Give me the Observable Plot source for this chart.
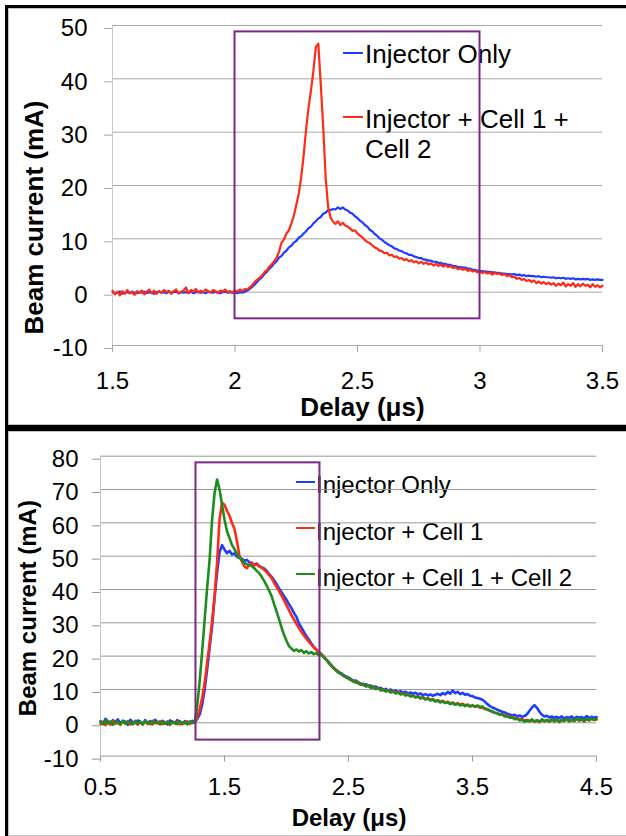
<!DOCTYPE html>
<html>
<head>
<meta charset="utf-8">
<script src="https://cdn.jsdelivr.net/npm/d3@7"></script>
<script src="https://cdn.jsdelivr.net/npm/@observablehq/plot@0.6"></script>
<style>
  html, body { margin: 0; padding: 0; background: #fff; }
  body { width: 626px; height: 836px; position: relative; overflow: hidden; font-family: "Liberation Sans", Arial, sans-serif; }
  .panel { position: absolute; box-sizing: border-box; border: 3px solid #000; box-shadow: inset 0 0 0 1px #c4c4c4; pointer-events: none; z-index: 3; }
  .chart { position: absolute; left: 0; z-index: 2; }
  .chart svg { background: transparent; }
  .leg { position: absolute; z-index: 1; color: #000; white-space: normal; }
  .legline { position: absolute; z-index: 1; height: 2px; }
</style>
</head>
<body>
<div id="top" class="chart" style="top:0px"></div>
<div id="bottom" class="chart" style="top:425px"></div>
<div class="panel" style="left:5px; top:5px; width:700px; height:423px"></div>
<div class="panel" style="left:5px; top:428px; width:700px; height:411px"></div>
<script>
// ---------- shared ----------
const colorInjector = "#1f3dff";
const colorCell1 = "#ff2b17";
const colorCell12 = "#1e8c1e";
const colorBox = "#7a2a84";
const yTitle = "Beam current (mA)";
const xTitle = "Delay (μs)";

// ---------- top chart ----------
const topXTicks = [1.5, 2, 2.5, 3, 3.5];
const topYTicks = [-10, 0, 10, 20, 30, 40, 50];
const topDelayStart = 1.5, topDelayStep = 0.01; // sampling grid, 201 samples
const topSeriesNames = ["Injector Only", "Injector + Cell 1 + Cell 2"];
// Injector Only (blue), rows of 10 samples starting at 1.50, 1.60, ...
const topInjectorOnly = [
  0.0, -0.2, -0.1, 0.1, -0.3, -0.1, 0.0, -0.2, 0.1, -0.1,
  -0.2, 0.0, -0.1, 0.1, -0.2, 0.0, -0.1, -0.3, 0.0, 0.1,
  -0.1, 0.0, -0.2, 0.1, -0.1, 0.0, 0.1, -0.2, 0.0, -0.1,
  0.0, -0.1, 0.1, -0.2, 0.0, 0.1, -0.1, 0.0, -0.2, 0.1,
  0.0, -0.1, 0.1, 0.0, -0.2, 0.0, 0.1, -0.1, 0.0, -0.1,
  -0.1, -0.2, 0.0, -0.1, 0.1, 0.3, 0.6, 1.0, 1.4, 1.9,
  2.4, 2.8, 3.4, 3.8, 4.4, 4.8, 5.4, 5.8, 6.5, 6.8,
  7.4, 7.8, 8.4, 8.7, 9.3, 9.6, 10.2, 10.5, 11.0, 11.4,
  12.0, 12.3, 12.9, 13.3, 13.8, 14.1, 14.7, 14.9, 15.4, 15.4,
  15.6, 15.5, 15.9, 15.6, 15.9, 15.5, 15.3, 14.9, 14.7, 14.2,
  13.9, 13.4, 13.1, 12.6, 12.3, 11.7, 11.4, 10.9, 10.6, 10.1,
  9.8, 9.4, 9.1, 8.8, 8.6, 8.2, 8.1, 7.8, 7.7, 7.4,
  7.3, 7.0, 7.0, 6.7, 6.6, 6.4, 6.4, 6.1, 6.1, 5.9,
  5.9, 5.7, 5.7, 5.5, 5.5, 5.3, 5.3, 5.1, 5.1, 4.9,
  4.9, 4.7, 4.7, 4.6, 4.6, 4.4, 4.4, 4.2, 4.2, 4.0,
  4.0, 3.9, 3.9, 3.8, 3.8, 3.7, 3.7, 3.6, 3.6, 3.5,
  3.5, 3.4, 3.4, 3.3, 3.4, 3.2, 3.3, 3.1, 3.2, 3.0,
  3.1, 3.0, 3.0, 2.9, 3.0, 2.8, 2.9, 2.8, 2.8, 2.7,
  2.8, 2.6, 2.7, 2.6, 2.7, 2.5, 2.6, 2.5, 2.6, 2.4,
  2.5, 2.4, 2.5, 2.4, 2.5, 2.3, 2.4, 2.3, 2.4, 2.3,
  2.3
];
// Injector + Cell 1 + Cell 2 (red)
const topInjectorCell12 = [
  0.3, -0.4, 0.1, -0.6, 0.2, -0.3, 0.4, -0.2, 0.0, -0.5,
  0.2, -0.1, 0.3, -0.4, 0.1, 0.5, -0.2, 0.3, -0.3, 0.2,
  -0.1, 0.4, 0.0, 0.3, -0.3, 0.2, 0.5, -0.2, 0.1, 0.3,
  0.9, -0.2, 0.4, 0.1, 0.6, -0.1, 0.3, 0.0, 0.5, 0.2,
  -0.1, 0.4, 0.2, -0.2, 0.3, 0.1, 0.5, 0.0, 0.2, -0.1,
  0.3, 0.1, 0.5, 0.2, 0.6, 0.5, 0.9, 1.3, 1.9, 2.3,
  2.7, 3.1, 3.7, 4.1, 4.8, 5.2, 5.8, 6.5, 7.6, 9.3,
  9.9, 11.0, 11.6, 12.9, 14.3, 16.3, 18.4, 21.5, 25.5, 30.5,
  34.5, 37.8, 41.5, 46.0, 46.6, 39.0, 31.0, 21.5, 16.0, 14.0,
  13.2, 12.8, 13.3, 12.6, 13.0, 12.5, 12.3, 11.9, 11.5, 11.6,
  11.0, 10.6, 10.3, 9.8, 9.4, 9.2, 8.8, 8.4, 8.2, 7.8,
  7.7, 7.3, 7.4, 6.9, 7.0, 6.6, 6.7, 6.3, 6.4, 6.0,
  6.2, 5.8, 6.0, 5.6, 5.8, 5.4, 5.7, 5.3, 5.6, 5.2,
  5.4, 5.0, 5.3, 4.9, 5.2, 4.8, 5.1, 4.7, 4.9, 4.5,
  4.7, 4.3, 4.5, 4.2, 4.4, 4.0, 4.2, 3.9, 4.0, 3.7,
  3.8, 3.6, 3.8, 3.5, 3.7, 3.3, 3.6, 3.4, 3.5, 3.2,
  3.4, 3.0, 3.2, 2.8, 2.9, 2.5, 2.7, 2.3, 2.5, 2.1,
  2.3, 1.9, 2.2, 1.7, 2.0, 1.6, 1.9, 1.5, 1.8, 1.4,
  1.7, 1.2, 1.6, 1.3, 1.8, 1.1, 1.5, 1.2, 1.7, 1.0,
  1.5, 1.1, 1.6, 1.2, 1.4, 0.9, 1.5, 1.0, 1.3, 0.9,
  1.2
];
const topBox = [{x1: 2, x2: 3, y1: -5, y2: 48.8}];

// ---------- bottom chart ----------
const botXTicks = [0.5, 1.5, 2.5, 3.5, 4.5];
const botYTicks = [-10, 0, 10, 20, 30, 40, 50, 60, 70, 80];
const botDelayStart = 0.5, botDelayStep = 0.02; // sampling grid, 201 samples
const botSeriesNames = ["Injector Only", "Injector + Cell 1", "Injector + Cell 1 + Cell 2"];
// rows of 10 samples starting at 0.50, 0.70, 0.90, ...
const botInjectorOnly = [
  0.5, -0.3, 1.2, 0.4, -0.5, 0.8, 0.1, 1.0, -0.2, 0.6,
  0.3, -0.6, 0.9, 0.2, -0.1, 0.7, 0.4, -0.4, 0.8, 0.0,
  0.5, -0.3, 0.9, 0.2, -0.2, 0.6, 0.1, -0.5, 0.7, 0.3,
  -0.1, 0.8, 0.0, -0.4, 0.5, 0.2, -0.2, 0.6, 0.1, 1.2,
  2.5, 5.5, 10.0, 16.0, 22.5, 29.0, 37.5, 45.0, 51.2, 53.3,
  52.0, 50.9, 51.6, 50.5, 50.8, 49.8, 49.5, 49.2, 48.6, 48.9,
  48.2, 48.0, 47.5, 47.8, 47.0, 46.6, 46.3, 45.6, 44.6, 43.8,
  42.8, 41.6, 40.3, 39.2, 38.0, 36.9, 35.6, 34.4, 33.0, 31.8,
  29.8, 28.6, 27.3, 26.0, 25.0, 23.8, 22.8, 22.0, 21.2, 20.6,
  19.8, 19.0, 18.2, 17.2, 16.5, 15.8, 15.2, 14.9, 14.3, 13.9,
  13.6, 13.1, 12.6, 12.7, 12.0, 11.8, 11.3, 11.6, 11.0, 11.2,
  10.6, 10.9, 10.2, 10.5, 9.8, 10.2, 9.6, 10.0, 9.4, 9.7,
  9.2, 9.5, 9.0, 9.3, 8.8, 9.1, 8.7, 9.0, 8.5, 8.8,
  8.3, 8.6, 8.2, 8.5, 8.1, 8.4, 8.7, 8.3, 8.9, 8.5,
  9.3, 8.7, 9.7, 8.9, 9.3, 8.6, 9.0, 8.4, 8.6, 8.1,
  8.0, 7.6, 7.4, 7.2, 6.9, 6.3, 5.6, 5.0, 4.6, 4.3,
  3.9, 3.6, 3.3, 3.1, 2.7, 2.5, 2.2, 2.4, 1.9, 2.2,
  1.8, 2.0, 2.6, 3.6, 4.6, 5.3, 4.5, 3.3, 2.4, 1.9,
  2.1, 1.6, 1.9, 1.5, 1.8, 1.4, 1.9, 1.3, 1.7, 1.5,
  1.9, 1.2, 1.8, 1.5, 1.7, 1.3, 2.0, 1.4, 1.8, 1.5,
  1.7
];
const botInjectorCell1 = [
  -0.4, 0.3, -0.7, 0.2, -0.5, 0.6, -0.3, 0.1, -0.6, 0.4,
  -0.2, 0.5, -0.5, 0.0, 0.3, -0.6, 0.2, -0.3, 0.4, -0.4,
  0.1, -0.5, 0.3, -0.2, 0.5, -0.4, 0.0, 0.4, -0.6, 0.2,
  -0.3, 0.3, -0.5, 0.1, -0.2, 0.4, -0.4, 0.2, 0.0, 1.8,
  4.0, 7.5, 12.0, 18.0, 24.0, 30.5, 38.0, 48.0, 61.0, 66.0,
  65.4, 63.6, 62.2, 60.0, 58.2, 54.6, 50.2, 48.4, 47.0, 46.4,
  47.5, 48.0, 47.2, 47.6, 46.9, 46.6, 45.9, 45.2, 44.3, 43.5,
  42.0, 40.8, 39.5, 38.2, 36.8, 35.3, 33.8, 32.3, 31.0, 29.7,
  28.4, 27.3, 26.2, 25.3, 24.3, 23.5, 22.6, 21.9, 21.3, 20.6,
  19.9, 18.9, 18.3, 17.1, 16.6, 15.6, 15.3, 14.6, 14.2, 13.6,
  13.4, 12.8, 12.5, 12.0, 12.2, 11.4, 11.6, 11.0, 11.3, 10.6,
  10.9, 10.2, 10.5, 9.8, 10.1, 9.5, 9.8, 9.2, 9.5, 9.0,
  9.2, 8.7, 8.9, 8.3, 8.6, 8.0, 8.2, 7.7, 8.0, 7.4,
  7.7, 7.1, 7.4, 6.9, 7.1, 6.5, 6.8, 6.3, 6.6, 6.0,
  6.3, 5.8, 6.1, 5.6, 5.9, 5.4, 5.7, 5.2, 5.5, 5.0,
  5.3, 4.8, 5.0, 4.5, 4.6, 4.1, 3.9, 3.6, 3.3, 3.0,
  2.9, 2.5, 2.6, 2.1, 2.2, 1.7, 1.8, 1.3, 1.5, 1.0,
  1.1, 0.6, 0.9, 0.4, 0.8, 0.3, 0.7, 0.2, 0.9, 0.4,
  0.8, 0.3, 1.0, 0.4, 0.9, 0.2, 0.8, 0.5, 1.1, 0.4,
  0.9, 0.5, 1.2, 0.6, 1.0, 0.4, 1.1, 0.7, 1.2, 0.8,
  1.0
];
const botInjectorCell12 = [
  0.2, -0.5, 0.7, -0.2, 0.4, -0.6, 0.5, 0.0, -0.4, 0.6,
  -0.3, 0.4, 0.1, -0.5, 0.6, -0.2, 0.3, -0.6, 0.5, 0.0,
  -0.4, 0.6, -0.1, 0.3, -0.5, 0.5, -0.3, 0.2, -0.6, 0.4,
  0.0, -0.4, 0.5, -0.2, 0.3, -0.5, 0.4, -0.1, 0.3, 5.0,
  12.5, 21.5, 31.0, 40.5, 49.0, 61.0, 69.0, 73.0, 70.0, 65.5,
  61.0, 57.5, 55.5, 53.4, 52.2, 50.6, 49.6, 48.9, 48.0, 47.6,
  47.3, 47.0, 46.4, 45.6, 44.9, 43.8, 42.6, 41.2, 39.6, 38.0,
  35.6, 33.4, 31.0, 28.6, 26.4, 24.6, 23.0, 22.3, 21.6, 22.0,
  21.4, 21.8, 21.0, 21.5, 20.8, 21.2, 20.6, 20.9, 20.3, 20.5,
  19.6, 19.0, 17.9, 17.4, 16.3, 15.8, 15.0, 14.7, 14.0, 13.7,
  13.2, 12.9, 12.3, 12.4, 11.8, 11.5, 11.7, 10.9, 11.2, 10.5,
  10.8, 10.1, 10.4, 9.7, 10.0, 9.4, 9.7, 9.1, 9.4, 8.8,
  9.1, 8.5, 8.8, 8.2, 8.5, 7.9, 8.2, 7.6, 7.9, 7.3,
  7.6, 7.0, 7.3, 6.7, 7.0, 6.4, 6.7, 6.1, 6.4, 5.9,
  6.2, 5.6, 5.9, 5.4, 5.7, 5.2, 5.5, 5.0, 5.3, 4.9,
  5.1, 4.9, 5.2, 4.8, 4.9, 4.3, 4.1, 3.7, 3.4, 3.0,
  2.8, 2.4, 2.5, 1.9, 2.0, 1.5, 1.6, 1.1, 1.2, 0.7,
  0.9, 0.3, 0.7, 0.5, 1.0, 0.4, 0.8, 0.3, 1.0, 0.5,
  0.9, 0.4, 1.1, 0.5, 1.0, 0.3, 0.9, 0.6, 1.2, 0.5,
  1.0, 0.6, 1.3, 0.7, 1.1, 0.5, 1.2, 0.8, 1.3, 0.9,
  1.1
];
const botBox = [{x1: 1.27, x2: 2.27, y1: -5.2, y2: 78}];

// ---------- build tables ----------
function table(values, start, step) {
  return values.map((v, i) => ({delay: +(start + i * step).toFixed(2), current: v}));
}
const fontFamily = "'Liberation Sans', Arial, sans-serif";
const fmt = d => String(d);

const topPlot = Plot.plot({
  width: 626, height: 425,
  marginTop: 25, marginBottom: 80, marginLeft: 112, marginRight: 24,
  style: {background: "transparent", fontFamily, fontSize: "24px", color: "#000"},
  x: {domain: [topXTicks[0], topXTicks[topXTicks.length - 1]], axis: null},
  y: {domain: [topYTicks[0], topYTicks[topYTicks.length - 1]], axis: null},
  marks: [
    Plot.gridY({ticks: topYTicks, stroke: "#a8a8a8", strokeOpacity: 1}),
    Plot.ruleX([topXTicks[0]], {stroke: "#c8c8c8"}),
    Plot.axisY({ticks: topYTicks, tickSize: 8, tickPadding: 17, fontSize: 24, stroke: "#a8a8a8", fill: "#000", tickFormat: fmt, dy: 3, label: null}),
    Plot.axisX({ticks: topXTicks, tickSize: 7, tickPadding: 19, fontSize: 24, stroke: "#a8a8a8", fill: "#000", tickFormat: fmt, label: null}),
    Plot.line(table(topInjectorOnly, topDelayStart, topDelayStep), {x: "delay", y: "current", stroke: colorInjector, strokeWidth: 2.2}),
    Plot.line(table(topInjectorCell12, topDelayStart, topDelayStep), {x: "delay", y: "current", stroke: colorCell1, strokeWidth: 2.2}),
    Plot.rect(topBox, {x1: "x1", x2: "x2", y1: "y1", y2: "y2", fill: "none", stroke: colorBox, strokeWidth: 2}),
    Plot.text([yTitle], {text: d => d, frameAnchor: "left", textAnchor: "middle", lineAnchor: "middle", rotate: -90, dx: -78, dy: 32, fontSize: 26, fontWeight: "bold", fill: "#000"}),
    Plot.text([xTitle], {text: d => d, frameAnchor: "bottom", textAnchor: "middle", lineAnchor: "middle", dx: 5, dy: 62, fontSize: 26, fontWeight: "bold", fill: "#000"})
  ]
});
document.getElementById("top").appendChild(topPlot);

const botPlot = Plot.plot({
  width: 626, height: 411,
  marginTop: 30.7, marginBottom: 80.4, marginLeft: 100, marginRight: 30,
  style: {background: "transparent", fontFamily, fontSize: "24px", color: "#000"},
  x: {domain: [botXTicks[0], botXTicks[botXTicks.length - 1]], axis: null},
  y: {domain: [botYTicks[0], botYTicks[botYTicks.length - 1]], axis: null},
  marks: [
    Plot.gridY({ticks: botYTicks, stroke: "#989898", strokeOpacity: 1}),
    Plot.ruleX([botXTicks[0]], {stroke: "#c8c8c8"}),
    Plot.axisY({ticks: botYTicks, tickSize: 8, tickPadding: 14, fontSize: 24, stroke: "#989898", fill: "#000", tickFormat: fmt, dy: 3, label: null}),
    Plot.axisX({ticks: botXTicks, tickSize: 6, tickPadding: 16, fontSize: 24, stroke: "#989898", fill: "#000", tickFormat: fmt, label: null}),
    Plot.line(table(botInjectorOnly, botDelayStart, botDelayStep), {x: "delay", y: "current", stroke: colorInjector, strokeWidth: 2.6}),
    Plot.line(table(botInjectorCell1, botDelayStart, botDelayStep), {x: "delay", y: "current", stroke: colorCell1, strokeWidth: 2.6}),
    Plot.line(table(botInjectorCell12, botDelayStart, botDelayStep), {x: "delay", y: "current", stroke: colorCell12, strokeWidth: 2.6}),
    Plot.rect(botBox, {x1: "x1", x2: "x2", y1: "y1", y2: "y2", fill: "none", stroke: colorBox, strokeWidth: 2}),
    Plot.text([yTitle], {text: d => d, frameAnchor: "left", textAnchor: "middle", lineAnchor: "middle", rotate: -90, dx: -72, dy: 2, fontSize: 24, fontWeight: "bold", fill: "#000"}),
    Plot.text([xTitle], {text: d => d, frameAnchor: "bottom", textAnchor: "middle", lineAnchor: "middle", dx: 0.5, dy: 62.4, fontSize: 24, fontWeight: "bold", fill: "#000"})
  ]
});
document.getElementById("bottom").appendChild(botPlot);

// ---------- legends (inside plot areas) ----------
function addLegend(names, colors, cfg) {
  names.forEach((name, i) => {
    const line = document.createElement("div");
    line.className = "legline";
    line.style.left = cfg.lineLeft + "px";
    line.style.width = cfg.lineWidth + "px";
    line.style.top = (cfg.lineTops[i] - 1) + "px";
    line.style.background = colors[i];
    document.body.appendChild(line);
    const t = document.createElement("div");
    t.className = "leg";
    t.style.left = cfg.textLeft + "px";
    t.style.top = cfg.textTops[i] + "px";
    t.style.fontSize = cfg.fontSize + "px";
    t.style.lineHeight = cfg.lineHeight + "px";
    t.style.width = cfg.textWidth + "px";
    t.textContent = name;
    document.body.appendChild(t);
  });
}
addLegend(topSeriesNames, [colorInjector, colorCell1], {
  lineLeft: 343, lineWidth: 20, lineTops: [52.7, 116.7],
  textLeft: 365, textTops: [39.3, 104.3], fontSize: 26, lineHeight: 30, textWidth: 215
});
addLegend(botSeriesNames, [colorInjector, colorCell1, colorCell12], {
  lineLeft: 296, lineWidth: 19, lineTops: [481.7, 527.7, 574.3],
  textLeft: 316, textTops: [471, 517.7, 563.7], fontSize: 24, lineHeight: 28, textWidth: 300
});
</script>
</body>
</html>
